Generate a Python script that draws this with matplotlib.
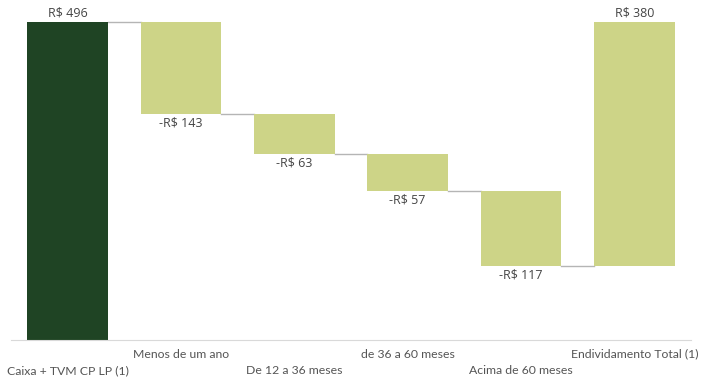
import numpy as np
import matplotlib
matplotlib.use("Agg")
import matplotlib.pyplot as plt

categories = ["Caixa + TVM CP LP (1)", "Menos de um ano", "De 12 a 36 meses",
              "de 36 a 60 meses", "Acima de 60 meses", "Endividamento Total (1)"]
caixa = 496
maturities = [143, 63, 57, 117]
total_debt = 380

dark = "#1f4424"
light = "#cdd487"
line_gray = "#b5b5b5"
txt = "#444444"

fig = plt.figure(figsize=(7.01, 3.79), dpi=100)
ax = fig.add_axes([11/701, 1 - 340/379, 680/701, 333/379])

x = np.arange(len(categories))
w = 0.71

# running levels
levels = [caixa]
for m in maturities:
    levels.append(levels[-1] - m)

bottoms = [0] + levels[1:] + [caixa - total_debt]
heights = [caixa] + maturities + [total_debt]
colors = [dark] + [light] * len(maturities) + [light]
ax.bar(x, heights, bottom=bottoms, width=w, color=colors, zorder=2)

# connectors
conn = [caixa] + levels[1:]
for i, lv in enumerate(conn):
    ax.plot([x[i] + w/2, x[i+1] - w/2], [lv, lv], color=line_gray, lw=1, zorder=1)

# value labels
vfont = dict(family=["Open Sans", "DejaVu Sans"], fontsize=9, color=txt)
ax.text(x[0], caixa + 4, f"R$ {caixa}", ha="center", va="bottom", **vfont)
for i, m in enumerate(maturities):
    ax.text(x[i+1], levels[i+1] - 4, f"-R$ {m}", ha="center", va="top", **vfont)
ax.text(x[-1], caixa + 4, f"R$ {total_debt}", ha="center", va="bottom", **vfont)

ax.set_xlim(-0.5, len(categories) - 0.5)
ax.set_ylim(0, 520)
for s in ["top", "right", "left"]:
    ax.spines[s].set_visible(False)
ax.spines["bottom"].set_color("#d9d9d9")
ax.set_yticks([])
ax.set_xticks([])

# category labels alternate between two rows
cfont = dict(family=["Lato", "DejaVu Sans"], fontsize=8.8, color="#555555")
for i, c in enumerate(categories):
    ypix = 371 if i % 2 == 0 else 354
    ax.text(x[i], -(ypix - 340) / 333, c, ha="center", va="center",
            transform=ax.get_xaxis_transform(), **cfont)

fig.savefig("out.png", dpi=100)
